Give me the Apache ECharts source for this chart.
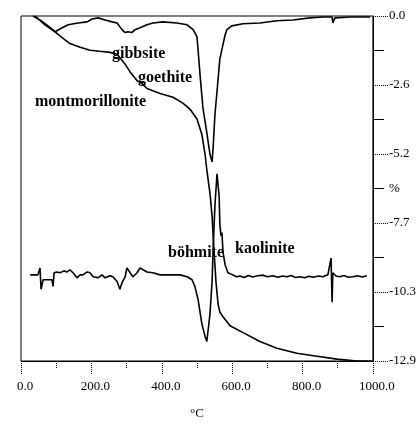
<!DOCTYPE html>
<html><head><meta charset="utf-8">
<script src="https://cdn.jsdelivr.net/npm/echarts@6/dist/echarts.min.js"></script>
<style>html,body{margin:0;padding:0;background:#fff}#c{width:419px;height:425px}</style>
</head><body><div id="c"></div>
<script>
// Tick labels
const xTickLabels = ['0.0','200.0','400.0','600.0','800.0','1000.0'];
const yTickLabels = ['-12.9','-10.3','-7.7','-5.2','-2.6','0.0']; // bottom to top
const yUnitLabel = '%';
const xName = '°C';
// Annotations
const annoText = ['gibbsite','goethite','montmorillonite','böhmite','kaolinite'];

// TG curve (mass loss, %)
const tgTemp = [34,54,77,97,117,139,168,196,224,253,273,296,310,330,344,358,395,432,460,480,500,514,523,528,537,543,548,554,560,565,574,594,631,679,727,784,841,898,955,997];
const tgMass = [0,-0.15,-0.37,-0.59,-0.81,-1.03,-1.17,-1.28,-1.32,-1.36,-1.43,-1.80,-2.09,-2.42,-2.53,-2.71,-2.90,-3.04,-3.26,-3.48,-3.85,-4.43,-5.17,-5.75,-6.63,-7.48,-8.69,-9.93,-10.77,-11.07,-11.25,-11.58,-11.84,-12.17,-12.42,-12.61,-12.72,-12.83,-12.90,-12.90];

// DTG curve (upper trace)
const dtgTemp = [40,68,97,117,134,162,188,202,219,239,259,273,287,296,304,315,324,338,358,375,403,443,472,489,500,503,509,517,528,537,543,546,551,557,565,574,580,585,599,631,679,727,773,821,858,884,886,892,935,992];
const dtgValue = [0,-0.33,-0.59,-0.44,-0.33,-0.26,-0.22,-0.11,-0.07,-0.15,-0.22,-0.26,-0.51,-0.62,-0.59,-0.62,-0.51,-0.44,-0.33,-0.26,-0.22,-0.26,-0.33,-0.51,-0.77,-1.25,-2.24,-3.44,-4.36,-5.17,-5.46,-4.91,-3.70,-2.82,-1.61,-1.06,-0.70,-0.51,-0.37,-0.29,-0.26,-0.18,-0.15,-0.07,-0.04,-0.04,-0.26,-0.07,-0.04,-0.04];

// DTA curve (lower trace)
const dtaTemp = [26,48,54,57,63,74,88,91,94,102,111,122,131,139,148,159,168,176,188,196,205,219,230,239,253,261,273,281,287,296,301,310,318,330,338,347,358,375,395,415,432,452,472,486,494,503,514,523,528,537,543,546,551,557,563,565,568,571,574,580,588,602,612,622,634,646,659,672,688,700,716,730,743,756,768,780,793,806,818,830,845,858,866,872,881,884,886,895,906,918,930,943,956,970,983];
const dtaValue = [-9.68,-9.68,-9.42,-10.22,-9.86,-9.86,-9.86,-10.11,-9.60,-9.57,-9.60,-9.53,-9.57,-9.49,-9.60,-9.79,-9.68,-9.68,-9.57,-9.60,-9.75,-9.79,-9.68,-9.79,-9.71,-9.75,-9.93,-10.22,-9.97,-9.75,-9.42,-9.60,-9.75,-9.60,-9.42,-9.49,-9.57,-9.60,-9.68,-9.68,-9.68,-9.68,-9.75,-9.86,-10.11,-10.59,-11.51,-11.98,-12.17,-11.14,-9.93,-8.69,-7.11,-5.90,-6.74,-7.77,-8.21,-8.10,-8.83,-9.31,-9.60,-9.68,-9.75,-9.72,-9.78,-9.70,-9.76,-9.71,-9.69,-9.75,-9.71,-9.77,-9.72,-9.75,-9.70,-9.78,-9.75,-9.79,-9.73,-9.77,-9.72,-9.75,-9.70,-9.68,-9.05,-10.70,-9.60,-9.72,-9.75,-9.70,-9.77,-9.75,-9.71,-9.76,-9.71];

const zip = (a,b)=>a.map((v,i)=>[v,b[i]]);
const serif = 'Liberation Serif';
const lineStyle = {color:'#000', width:1.6};

const chart = echarts.init(document.getElementById('c'));
chart.setOption({
  animation:false,
  backgroundColor:'#fff',
  grid:{left:21,right:46,top:16,bottom:57,show:true,borderColor:'#000',borderWidth:1},
  xAxis:{
    type:'value',min:0,max:1000,interval:200,
    name:xName,nameLocation:'middle',nameGap:46,
    nameTextStyle:{fontFamily:serif,fontSize:13,color:'#000'},
    axisLine:{onZero:false,lineStyle:{color:'#000',width:1}},
    axisTick:{show:true,length:13,lineStyle:{color:'#000',type:'dotted'}},
    minorTick:{show:true,splitNumber:2,length:8,lineStyle:{color:'#000',type:'dotted'}},
    splitLine:{show:false},minorSplitLine:{show:false},
    axisLabel:{margin:19,fontFamily:serif,fontSize:13,color:'#000',padding:[0,0,0,8],
      formatter:(v)=>xTickLabels[Math.round(v/200)]}
  },
  yAxis:[{
    type:'value',position:'right',min:-12.9,max:0,interval:2.58,
    axisLine:{show:true,onZero:false,lineStyle:{color:'#000',width:1}},
    axisTick:{show:true,length:15,lineStyle:{color:'#000',type:'dotted'}},
    minorTick:{show:true,splitNumber:2,length:11,lineStyle:{color:'#000'}},
    splitLine:{show:false},minorSplitLine:{show:false},
    axisLabel:{margin:16,fontFamily:serif,fontSize:13,color:'#000',
      formatter:(v)=>yTickLabels[Math.round((v+12.9)/2.58)]}
  },{
    type:'value',position:'right',offset:0,min:-12.9,max:0,interval:1.29,
    axisLine:{show:false,onZero:false},axisTick:{show:false},splitLine:{show:false},
    axisLabel:{margin:16,fontFamily:serif,fontSize:13,color:'#000',
      formatter:(v)=>Math.round((v+12.9)/1.29)===5?yUnitLabel:''}
  }],
  series:[
    {type:'line',data:zip(tgTemp,tgMass),showSymbol:false,lineStyle,yAxisIndex:0},
    {type:'line',data:zip(dtgTemp,dtgValue),showSymbol:false,lineStyle,yAxisIndex:0},
    {type:'line',data:zip(dtaTemp,dtaValue),showSymbol:false,lineStyle,yAxisIndex:0}
  ],
  graphic:[
    {type:'text',x:112,y:54,style:{text:annoText[0],font:'bold 16px "Liberation Serif"',fill:'#000',verticalAlign:'middle'}},
    {type:'text',x:138,y:78,style:{text:annoText[1],font:'bold 16px "Liberation Serif"',fill:'#000',verticalAlign:'middle'}},
    {type:'text',x:35,y:102,style:{text:annoText[2],font:'bold 16px "Liberation Serif"',fill:'#000',verticalAlign:'middle'}},
    {type:'text',x:168,y:253,style:{text:annoText[3],font:'bold 16px "Liberation Serif"',fill:'#000',verticalAlign:'middle'}},
    {type:'text',x:235,y:249,style:{text:annoText[4],font:'bold 16px "Liberation Serif"',fill:'#000',verticalAlign:'middle'}}
  ]
});
</script></body></html>
